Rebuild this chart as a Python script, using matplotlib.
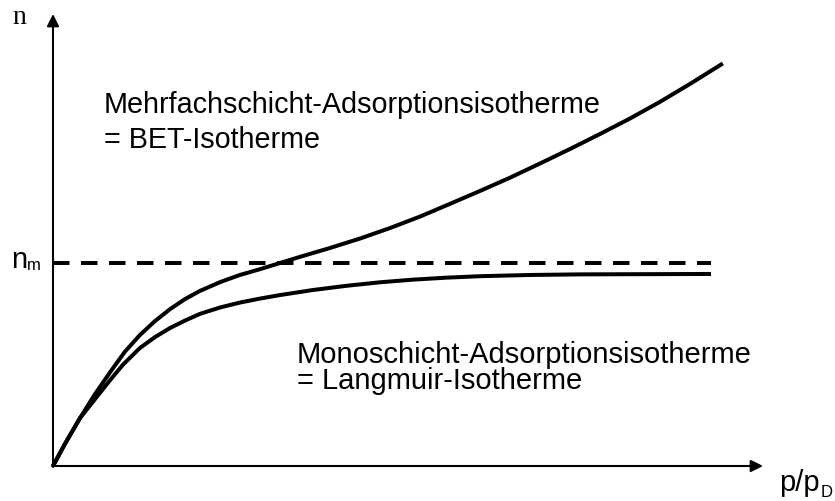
import matplotlib
matplotlib.use("Agg")
import matplotlib.pyplot as plt

# ---- data (x in units of p/p_D relative to dashed-line end, y in units of n_m) ----
bet_x = [0.0, 0.018, 0.041, 0.064, 0.087, 0.109, 0.132, 0.155, 0.178, 0.201, 0.223, 0.254,
         0.284, 0.315, 0.345, 0.375, 0.421, 0.467, 0.512, 0.558, 0.603, 0.649, 0.695, 0.740,
         0.786, 0.831, 0.877, 0.922, 0.968, 1.018]
bet_y = [0.0, 0.108, 0.236, 0.355, 0.463, 0.562, 0.645, 0.714, 0.773, 0.823, 0.862, 0.906,
         0.941, 0.970, 1.000, 1.030, 1.074, 1.121, 1.172, 1.229, 1.291, 1.355, 1.421, 1.490,
         1.562, 1.635, 1.712, 1.793, 1.882, 1.983]

lang_x = [0.0, 0.018, 0.041, 0.064, 0.082, 0.106, 0.132, 0.155, 0.178, 0.201, 0.223, 0.254,
          0.284, 0.315, 0.345, 0.395, 0.447, 0.497, 0.547, 0.599, 0.649, 0.725, 0.801, 1.0]
lang_y = [0.0, 0.108, 0.236, 0.330, 0.404, 0.498, 0.581, 0.635, 0.680, 0.717, 0.749, 0.781,
          0.805, 0.825, 0.842, 0.867, 0.888, 0.905, 0.918, 0.928, 0.935, 0.941, 0.944, 0.946]

nm_level = 1.0
dash_x = [0.0, 1.0]

label_upper = ["Mehrfachschicht-Adsorptionsisotherme", "= BET-Isotherme"]
label_lower = ["Monoschicht-Adsorptionsisotherme", "= Langmuir-Isotherme"]

# ---- layout: pixel mapping ----
W, H = 835, 501
OX, OY = 53, 466        # origin in pixels
SX, SY = 658, 203       # pixels per data unit


def px(p):
    return (p - OX) / SX


def py(p):
    return (OY - p) / SY


fig = plt.figure(figsize=(W / 100, H / 100), dpi=100)
ax = fig.add_axes([0, 0, 1, 1])
ax.set_xlim(px(0), px(W))
ax.set_ylim(py(H), py(0))
ax.axis("off")

LW = 2.88
# curves
ax.plot(bet_x, bet_y, color="black", lw=LW, solid_capstyle="butt", solid_joinstyle="round")
ax.plot(lang_x, lang_y, color="black", lw=LW, solid_capstyle="butt", solid_joinstyle="round")
ax.plot(dash_x, [nm_level, nm_level], color="black", lw=LW,
        linestyle=(0, (4.125, 2.875)), dash_capstyle="butt")

# axes with arrows
arrow_kw = dict(arrowstyle="-|>", lw=1.5, color="black", mutation_scale=18,
                shrinkA=0, shrinkB=0)
ax.annotate("", xy=(px(OX), py(14)), xytext=(px(OX), py(OY + 1)), arrowprops=arrow_kw)
ax.annotate("", xy=(px(763), py(OY)), xytext=(px(OX - 1), py(OY)), arrowprops=arrow_kw)

sans = "Liberation Sans"
ax.text(px(12), py(24), "n", family="Liberation Serif", fontsize=20, ha="left", va="baseline")
ax.text(px(11), py(268), "n", family=sans, fontsize=21, ha="left", va="baseline")
ax.text(px(27), py(270), "m", family=sans, fontsize=12, ha="left", va="baseline")
ax.text(px(779), py(491), "p/p", family=sans, fontsize=21, ha="left", va="baseline")
ax.text(px(821), py(497), "D", family=sans, fontsize=12, ha="left", va="baseline")

ax.text(px(104), py(113), label_upper[0], family=sans, fontsize=20.7, ha="left", va="baseline")
ax.text(px(104), py(148), label_upper[1], family=sans, fontsize=20.7, ha="left", va="baseline")
ax.text(px(297), py(363), label_lower[0], family=sans, fontsize=21, ha="left", va="baseline")
ax.text(px(297), py(389), label_lower[1], family=sans, fontsize=21, ha="left", va="baseline")

fig.savefig("out.png", dpi=100)
